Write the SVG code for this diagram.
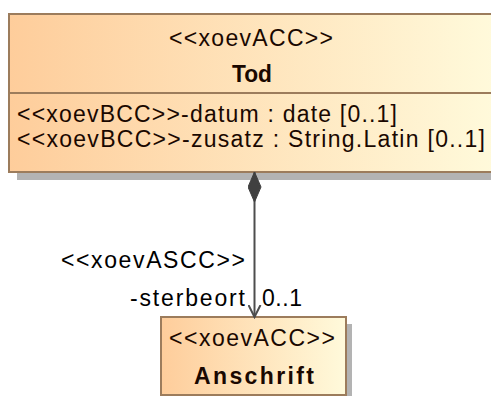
<svg xmlns="http://www.w3.org/2000/svg" width="491" height="396" viewBox="0 0 491 396">
<defs>
<linearGradient id="g" x1="0" y1="0" x2="1" y2="0">
<stop offset="0" stop-color="#fecd9b"/>
<stop offset="1" stop-color="#fffadb"/>
</linearGradient>
<marker id="open" markerWidth="14" markerHeight="14" refX="12" refY="7" orient="auto" markerUnits="userSpaceOnUse">
<path d="M0,1 L12,7 L0,13" fill="none" stroke="#4d4d4d" stroke-width="2"/>
</marker>
<marker id="diamond" markerWidth="32" markerHeight="14" refX="0" refY="7" orient="auto" markerUnits="userSpaceOnUse">
<path d="M0,7 L15,0.5 L30,7 L15,13.5 Z" fill="#404040" stroke="#404040" stroke-width="1"/>
</marker>
<style>
.box{fill:url(#g);stroke:#9c7c5c;stroke-width:2}
.shadow{fill:#b3b3b3}
.t{font-family:"Liberation Sans",Arial,sans-serif;font-size:23px;fill:#1a0800}
.b{font-weight:bold}
.lbl{font-family:"Liberation Sans",Arial,sans-serif;font-size:23px;fill:#000}
.edge{stroke:#4d4d4d;stroke-width:2;fill:none}
</style>
</defs>
<g id="Tod">
<rect class="shadow" x="17" y="21" width="480" height="159"/>
<rect class="box" x="9" y="14" width="486" height="158"/>
<line x1="9" y1="93" x2="495" y2="93" stroke="#9c7c5c" stroke-width="2"/>
<text class="t" x="251" y="46" text-anchor="middle" textLength="164" lengthAdjust="spacing">&lt;&lt;xoevACC&gt;&gt;</text>
<text class="t b" x="252" y="82" text-anchor="middle" textLength="40" lengthAdjust="spacingAndGlyphs">Tod</text>
<text class="t" x="17" y="122" textLength="380" lengthAdjust="spacing">&lt;&lt;xoevBCC&gt;&gt;-datum : date [0..1]</text>
<text class="t" x="17" y="147" textLength="468" lengthAdjust="spacing">&lt;&lt;xoevBCC&gt;&gt;-zusatz : String.Latin [0..1]</text>
</g>
<g id="Anschrift">
<rect class="shadow" x="167" y="324" width="185" height="78"/>
<rect class="box" x="161" y="317" width="185" height="78"/>
<text class="t" x="252" y="346" text-anchor="middle" textLength="166" lengthAdjust="spacing">&lt;&lt;xoevACC&gt;&gt;</text>
<text class="t b" x="254" y="384" text-anchor="middle" textLength="120" lengthAdjust="spacing">Anschrift</text>
</g>
<g id="connectors">
<path class="edge" d="M254.5,172 L254.5,317" marker-start="url(#diamond)" marker-end="url(#open)"/>
<text class="lbl" x="245" y="268" text-anchor="end" textLength="184" lengthAdjust="spacing">&lt;&lt;xoevASCC&gt;&gt;</text>
<text class="lbl" x="245" y="306" text-anchor="end" textLength="115" lengthAdjust="spacing">-sterbeort</text>
<text class="lbl" x="262" y="306" textLength="40" lengthAdjust="spacing">0..1</text>
</g>
</svg>
